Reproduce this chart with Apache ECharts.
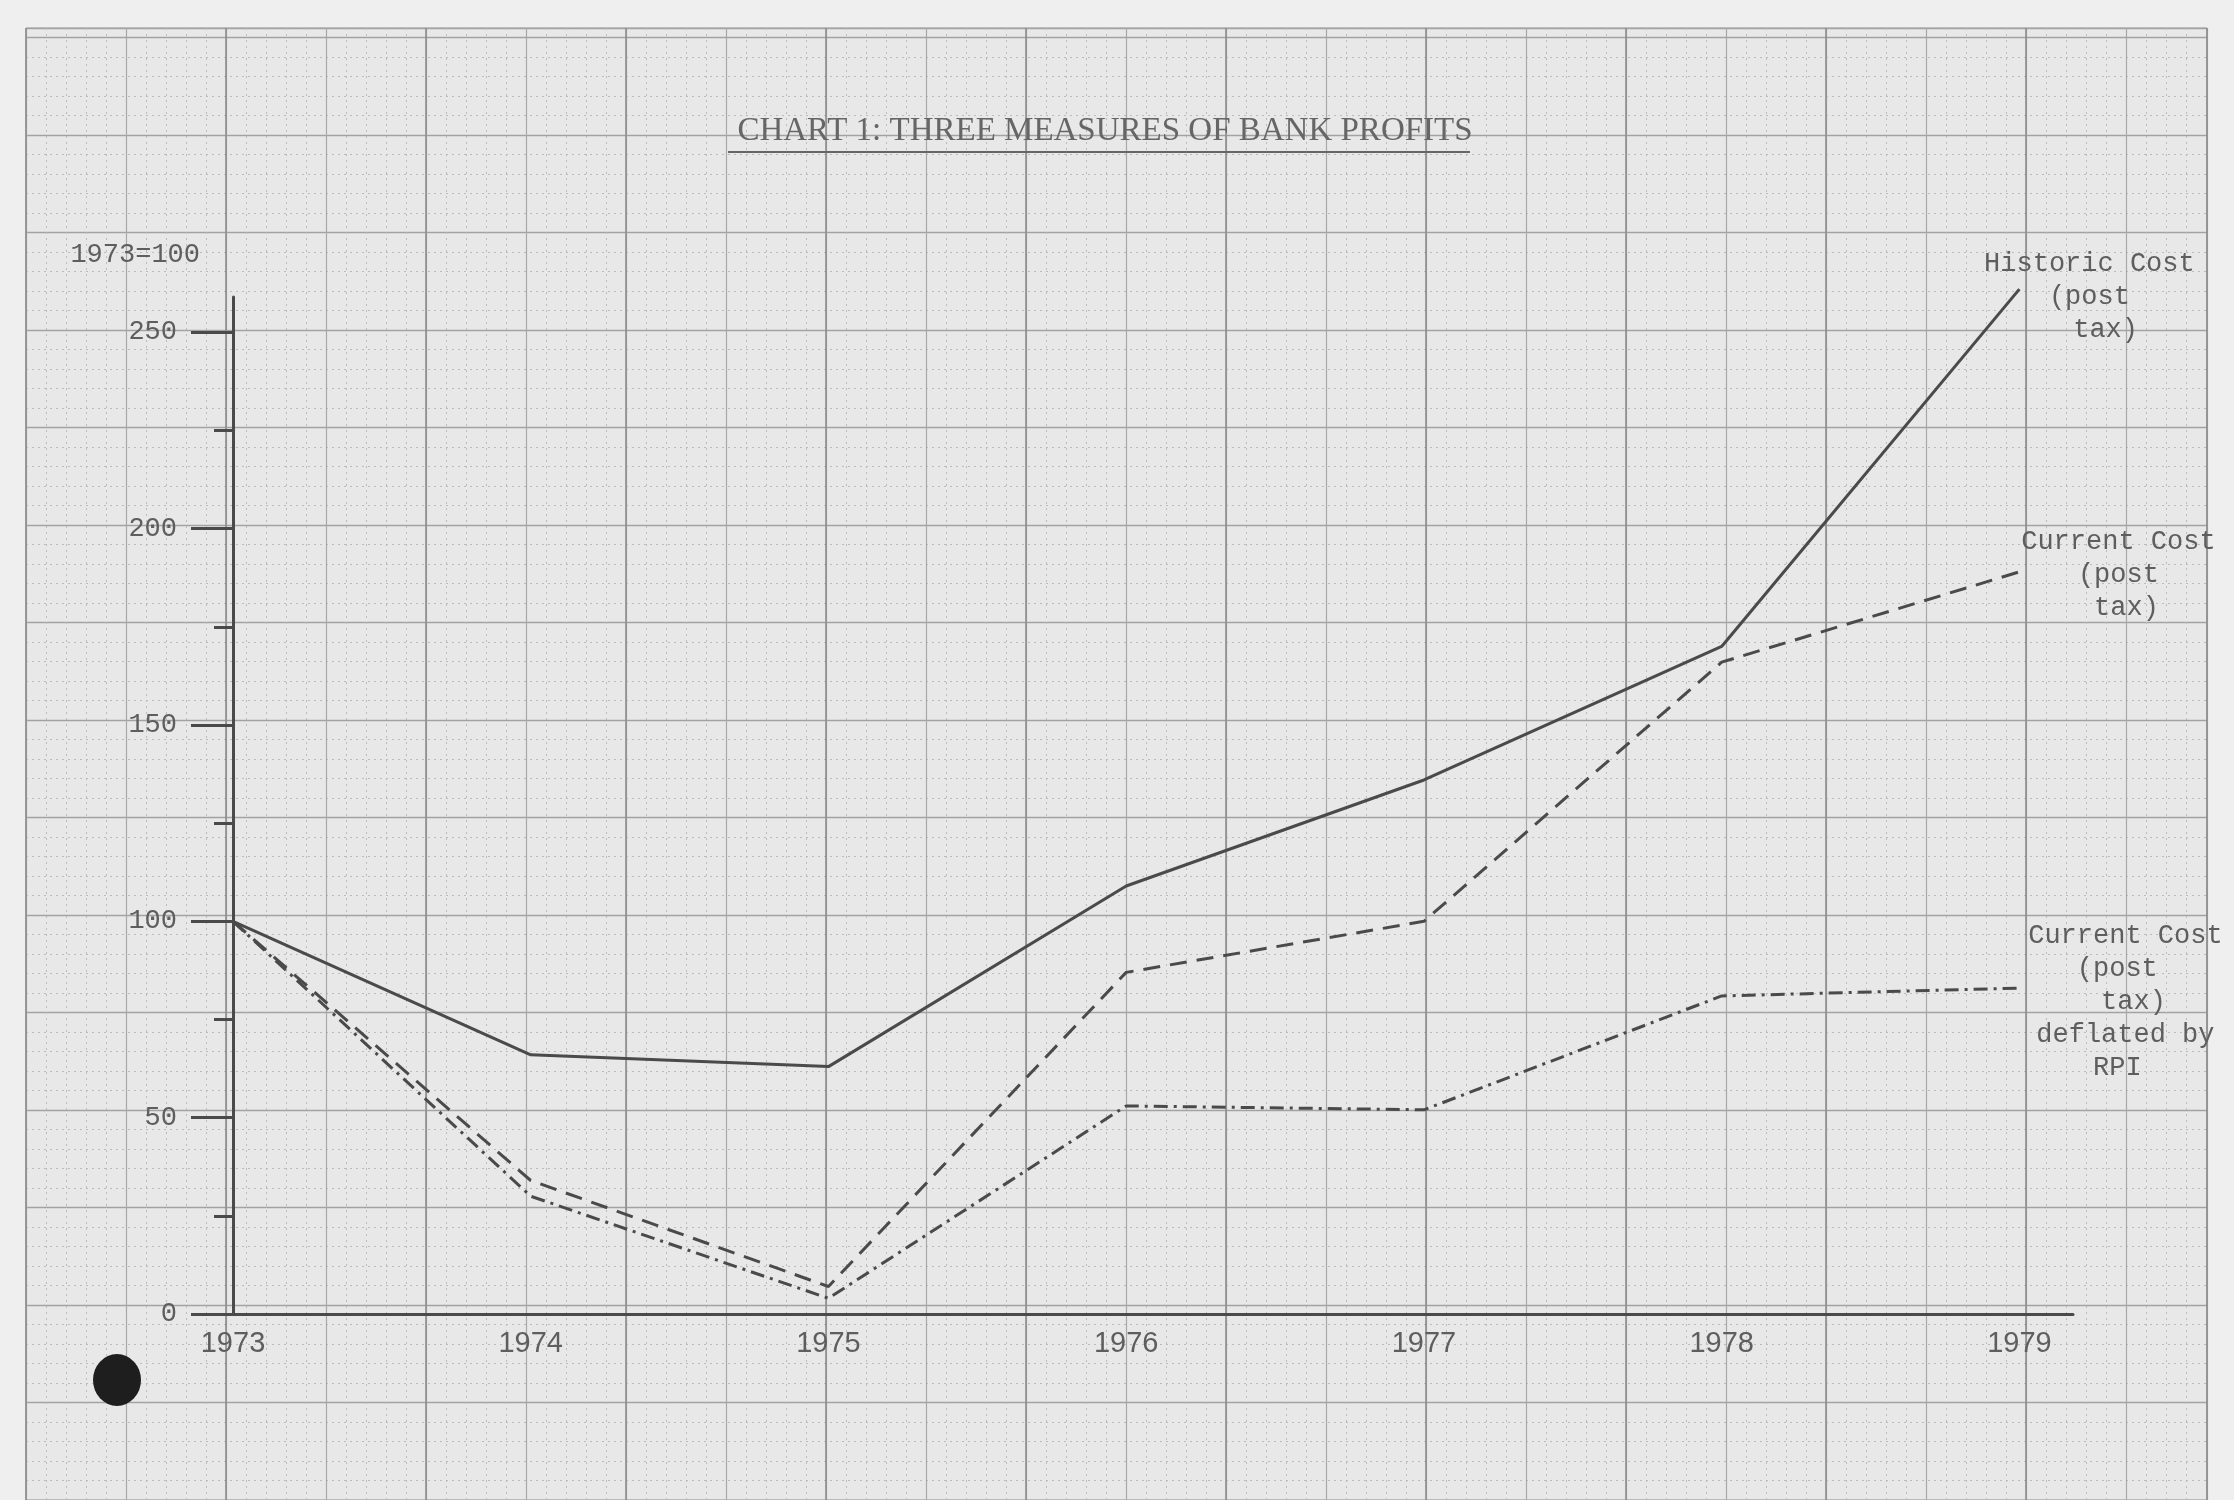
<!DOCTYPE html>
<html>
<head>
<meta charset="utf-8">
<title>Chart 1: Three measures of bank profits</title>
<script src="https://cdn.jsdelivr.net/npm/echarts@6/dist/echarts.min.js"></script>
<style>
  html, body { margin: 0; padding: 0; background: #efefef; }
  #chart { width: 2234px; height: 1500px; }
</style>
</head>
<body>
<div id="chart"></div>
<script>
// ---- data (1973 = 100) ----
var years = [1973, 1974, 1975, 1976, 1977, 1978, 1979];
var historicCost = [100, 66, 63, 109, 136, 170, 261];
var currentCost = [100, 34, 7, 87, 100, 166, 189];
var currentCostRPI = [100, 30, 4, 53, 52, 81, 83];
var yLabelValues = [0, 50, 100, 150, 200, 250];
var yMinorTickValues = [25, 75, 125, 175, 225];

var ink = '#4a4a4a';
var typeInk = '#5e5e5e';
var mono = '"Liberation Mono", "DejaVu Sans Mono", monospace';

function pairs(vals) {
    return years.map(function (y, i) {
        return [y, vals[i]];
    });
}

function endLabel(text, dx, dy) {
    return {
        show: true,
        formatter: text,
        color: typeInk,
        fontFamily: mono,
        fontSize: 27,
        lineHeight: 33,
        align: 'center',
        verticalAlign: 'middle',
        distance: 0,
        offset: [dx, dy]
    };
}

// graph paper axis (grid 1), no labels, just lines
function paperAxis(extra) {
    var base = {
        gridIndex: 1, type: 'value', z: -1,
        axisLine: { show: false }, axisTick: { show: false }, axisLabel: { show: false }
    };
    return Object.assign(base, extra);
}

var chart = echarts.init(document.getElementById('chart'));

var option = {
    backgroundColor: '#efefef',
    animation: false,
    title: {
        text: 'CHART 1: THREE MEASURES OF BANK PROFITS',
        left: 1100,
        top: 110,
        textAlign: 'center',
        textStyle: {
            fontFamily: '"Liberation Serif", serif',
            fontSize: 33,
            fontWeight: 'normal',
            color: '#666'
        }
    },
    grid: [
        // the chart itself
        { left: 233, right: 161, top: 297, bottom: 186 },
        // graph paper behind it
        {
            left: 26, right: 27, top: 28, bottom: -10, z: -2,
            show: true, backgroundColor: '#e8e8e8',
            borderColor: '#9c9c9c', borderWidth: 1
        }
    ],
    xAxis: [
        {
            gridIndex: 0,
            type: 'value',
            min: 1973,
            max: 1979.18,
            axisLine: { show: true, lineStyle: { color: ink, width: 3 } },
            axisTick: { show: false },
            splitLine: { show: false },
            axisLabel: {
                customValues: years,
                formatter: function (v) { return String(v); },
                margin: 15,
                color: typeInk,
                fontFamily: '"Liberation Sans", sans-serif',
                fontSize: 29
            }
        },
        paperAxis({
            position: 'bottom',
            min: 0, max: 2181, interval: 100,
            splitLine: { show: true, lineStyle: { color: '#a8a8a8', width: 1.2 } },
            minorTick: { show: false, splitNumber: 5 },
            minorSplitLine: { show: true, lineStyle: { color: '#bcbcbc', width: 1, type: [2, 4] } }
        }),
        paperAxis({
            position: 'top',
            min: 0, max: 2181, interval: 200,
            splitLine: { show: true, lineStyle: { color: '#8e8e8e', width: 1.6 } }
        })
    ],
    yAxis: [
        {
            gridIndex: 0,
            type: 'value',
            min: 0,
            max: 259,
            name: '1973=100',
            nameLocation: 'end',
            nameGap: 42,
            nameTextStyle: {
                fontFamily: mono, fontSize: 27, color: typeInk,
                align: 'right', verticalAlign: 'middle', padding: [0, 33, 0, 0]
            },
            axisLine: { show: true, lineStyle: { color: ink, width: 3 } },
            axisTick: { show: true, customValues: yLabelValues, length: 42, lineStyle: { color: ink, width: 3 } },
            splitLine: { show: false },
            axisLabel: {
                customValues: yLabelValues,
                margin: 56,
                color: typeInk,
                fontFamily: mono,
                fontSize: 27
            }
        },
        {
            gridIndex: 0,
            type: 'value',
            position: 'left',
            min: 0,
            max: 259,
            axisLine: { show: false },
            axisTick: { show: true, customValues: yMinorTickValues, length: 19, lineStyle: { color: ink, width: 3 } },
            axisLabel: { show: false },
            splitLine: { show: false }
        },
        paperAxis({
            min: -2, max: 13.1, interval: 1,
            splitLine: { show: true, lineStyle: { color: '#a2a2a2', width: 1.3 } },
            minorTick: { show: false, splitNumber: 5 },
            minorSplitLine: { show: true, lineStyle: { color: '#bcbcbc', width: 1, type: [2, 4] } }
        })
    ],
    graphic: [
        // title underline
        {
            type: 'line', shape: { x1: 728, y1: 152, x2: 1470, y2: 152 },
            style: { stroke: '#666', lineWidth: 2 }, z: 10
        },
        // hole punch
        {
            type: 'circle', x: 117, y: 1380, scaleY: 1.08,
            shape: { cx: 0, cy: 0, r: 24 },
            style: { fill: '#1e1e1e' }, z: 10
        }
    ],
    series: [
        {
            name: 'Historic Cost (post tax)',
            type: 'line',
            xAxisIndex: 0, yAxisIndex: 0,
            data: pairs(historicCost),
            symbol: 'none',
            clip: false,
            lineStyle: { color: ink, width: 3 },
            endLabel: endLabel('Historic Cost\n(post\n  tax)', 70, 8)
        },
        {
            name: 'Current Cost (post tax)',
            type: 'line',
            xAxisIndex: 0, yAxisIndex: 0,
            data: pairs(currentCost),
            symbol: 'none',
            clip: false,
            lineStyle: { color: ink, width: 3, type: [17, 10] },
            endLabel: endLabel('Current Cost\n(post\n tax)', 99, 3)
        },
        {
            name: 'Current Cost (post tax) deflated by RPI',
            type: 'line',
            xAxisIndex: 0, yAxisIndex: 0,
            data: pairs(currentCostRPI),
            symbol: 'none',
            clip: false,
            lineStyle: { color: ink, width: 3, type: [14, 6, 3, 6] },
            endLabel: endLabel('Current Cost\n(post \n tax)\ndeflated by\nRPI ', 106, 14)
        }
    ]
};

chart.setOption(option);
</script>
</body>
</html>
